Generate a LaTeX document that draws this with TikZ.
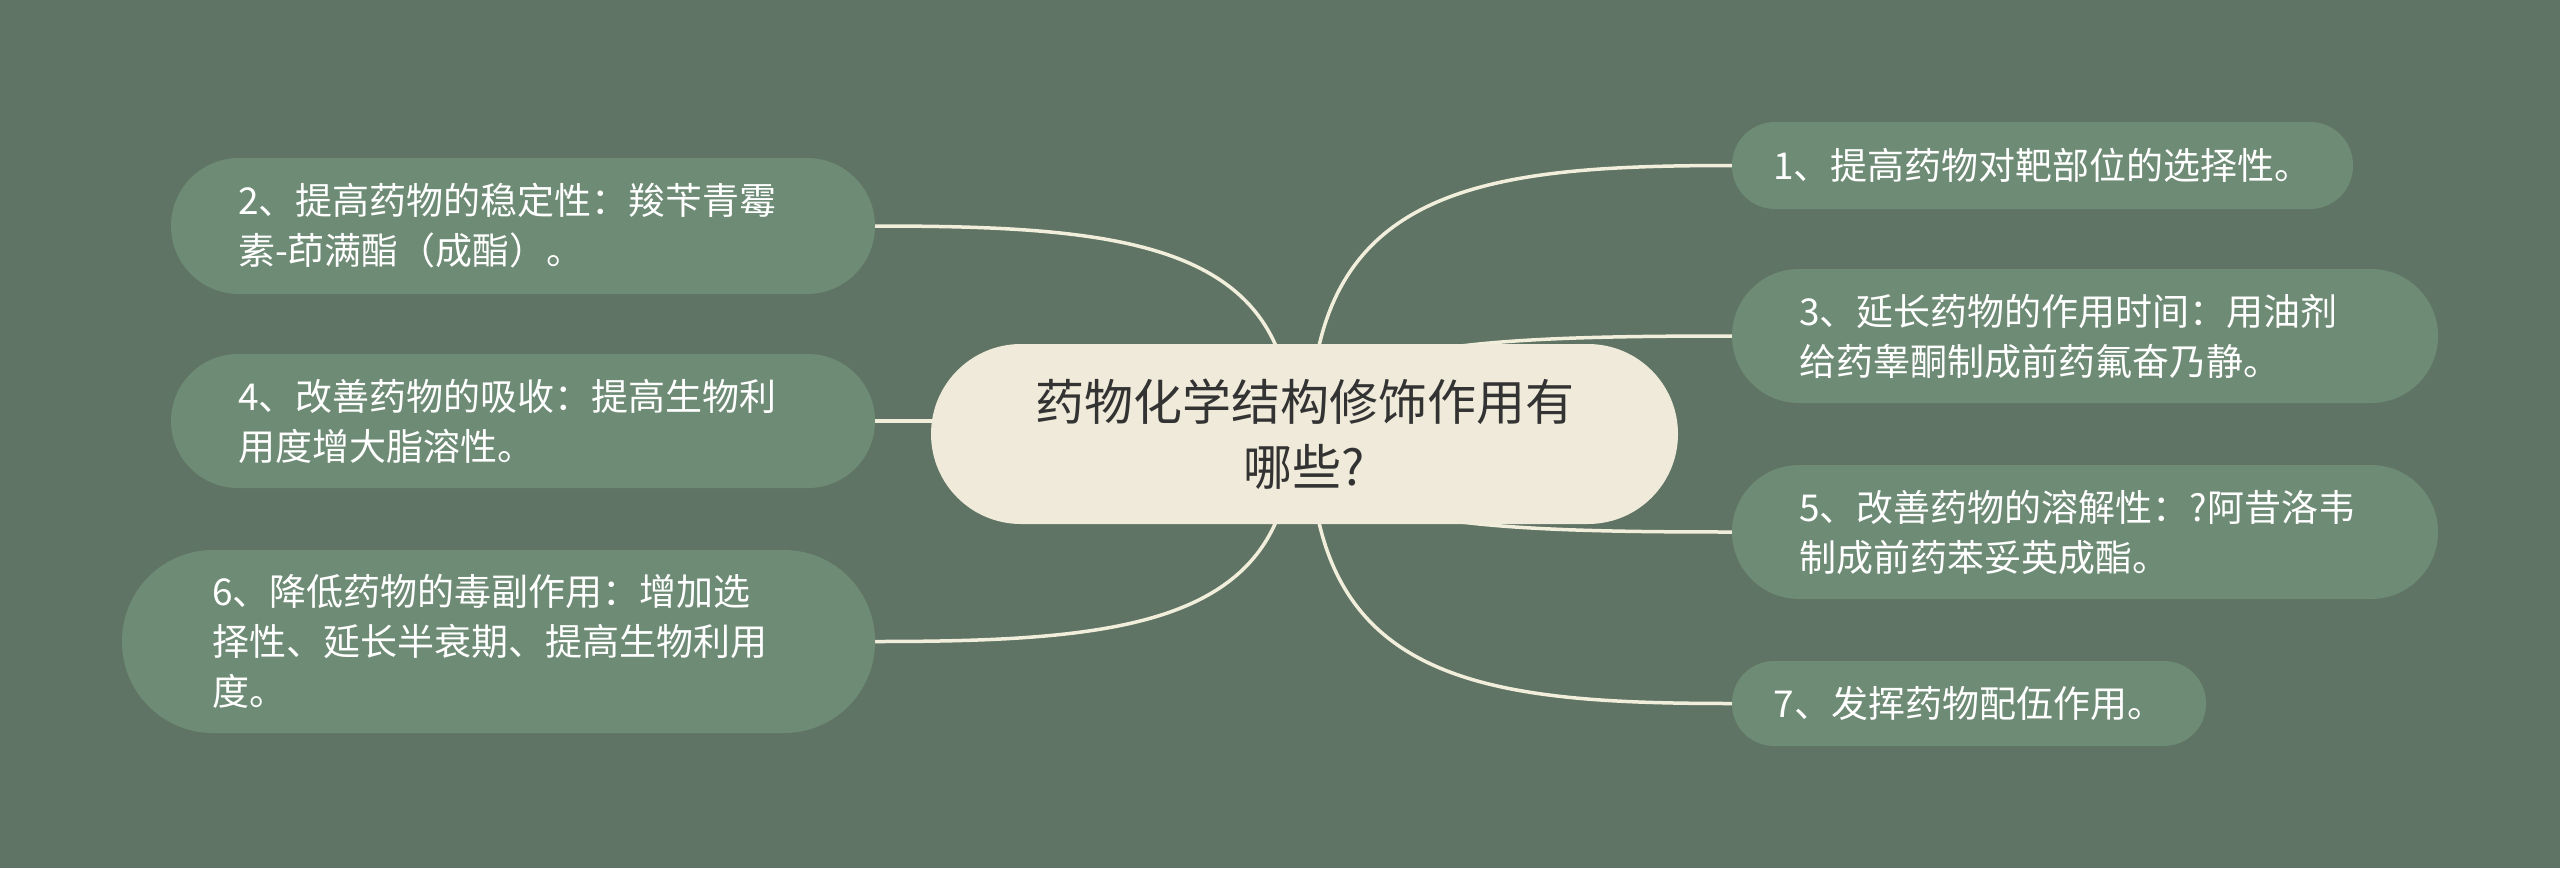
\documentclass[tikz,border=0pt]{standalone}
\usepackage{fontspec}
\newfontfamily\cjk{Noto Sans CJK SC}
\usetikzlibrary{calc}
\definecolor{bgc}{HTML}{5F7464}
\definecolor{boxc}{HTML}{6E8B75}
\definecolor{rootc}{HTML}{EFEAD9}
\definecolor{linec}{HTML}{F2EEDC}
\definecolor{roottext}{HTML}{333333}
\pgfdeclarelayer{bglayer}
\pgfdeclarelayer{linklayer}
\pgfsetlayers{bglayer,linklayer,main}
\newcommand\mmlink[2]{\draw[link] (#1) .. controls ($(#1)!0.92!(#1 |- #2)$) and ($(#2)!0.6!(#1 |- #2)$) .. (#2);}
\begin{document}
\begin{tikzpicture}[x=1pt,y=-1pt,
  subbox/.style={shape=rectangle, fill=boxc, text=white, font=\cjk\fontsize{37pt}{50pt}\selectfont, inner ysep=0pt},
  rootbox/.style={shape=rectangle, fill=rootc, text=roottext, font=\cjk\fontsize{49pt}{65pt}\selectfont, inner ysep=0pt, align=center},
  link/.style={draw=linec, line width=3.5pt}]
\useasboundingbox (0,0) rectangle (2560,868);
\begin{pgfonlayer}{bglayer}
\fill[bgc] (0,0) rectangle (2560,868);
\end{pgfonlayer}

\node[rootbox, minimum width=747pt, minimum height=180pt, text width=640pt, inner xsep=53.5pt, rounded corners=90pt] (c) at (1304.5,434) {药物化学结构修饰作用有\\哪些?};

\node[subbox, align=left, minimum height=136pt, text width=570pt, inner xsep=67pt, rounded corners=68pt] (n2) at (523,226) {2、提高药物的稳定性：羧苄青霉\\素-茚满酯（成酯）。};
\node[subbox, align=left, minimum height=134pt, text width=570pt, inner xsep=67pt, rounded corners=67pt] (n4) at (523,421) {4、改善药物的吸收：提高生物利\\用度增大脂溶性。};
\node[subbox, align=left, minimum height=183pt, text width=573pt, inner xsep=90pt, rounded corners=91pt] (n6) at (498.5,641.5) {6、降低药物的毒副作用：增加选\\择性、延长半衰期、提高生物利用\\度。};

\node[subbox, align=center, minimum height=87pt, text width=541pt, inner xsep=40pt, rounded corners=43pt] (n1) at (2042.5,165.5) {1、提高药物对靶部位的选择性。};
\node[subbox, align=left, minimum height=134pt, text width=572pt, inner xsep=67pt, rounded corners=67pt] (n3) at (2085,336) {3、延长药物的作用时间：用油剂\\给药睾酮制成前药氟奋乃静。};
\node[subbox, align=left, minimum height=134pt, text width=572pt, inner xsep=67pt, rounded corners=67pt] (n5) at (2085,532) {5、改善药物的溶解性：?阿昔洛韦\\制成前药苯妥英成酯。};
\node[subbox, align=center, minimum height=85pt, text width=394pt, inner xsep=40pt, rounded corners=42pt] (n7) at (1969,703.5) {7、发挥药物配伍作用。};

\coordinate (cR) at (1310,434);
\coordinate (cL) at (1292,434);
\begin{pgfonlayer}{linklayer}
\mmlink{cR}{n1.west}
\mmlink{cR}{n3.west}
\mmlink{cR}{n5.west}
\mmlink{cR}{n7.west}
\mmlink{cL}{n2.east}
\draw[link] (n4.east) -- (n4.east -| cL);
\mmlink{cL}{n6.east}
\end{pgfonlayer}
\end{tikzpicture}
\end{document}
